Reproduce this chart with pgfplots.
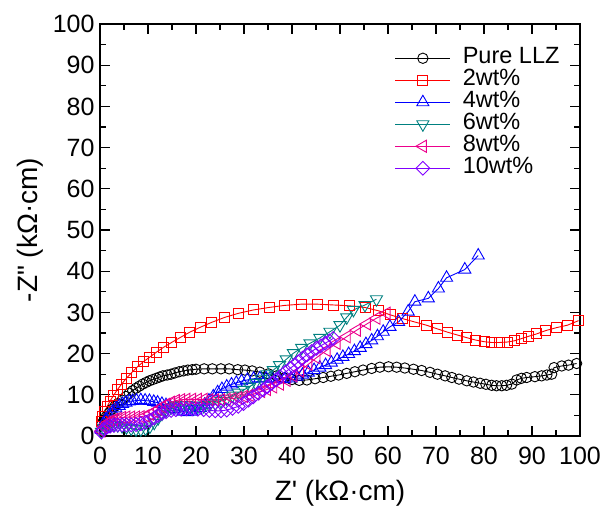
\documentclass[border=0pt]{standalone}
\usepackage{fontspec}
\newfontfamily\lsans{Liberation Sans}
\usepackage{pgfplots}
\pgfplotsset{compat=1.18}
\definecolor{cteal}{RGB}{0,128,128}
\definecolor{cviolet}{RGB}{128,0,255}
\begin{document}
\begin{tikzpicture}[font=\lsans\fontsize{25}{29}\selectfont]
\begin{axis}[
  name=ax,
  scale only axis, width=480pt, height=412pt,
  xmin=0, xmax=100, ymin=0, ymax=100,
  xtick distance=10, ytick distance=10, minor tick num=1,
  tick align=inside,
  major tick length=10pt, minor tick length=6pt,
  every tick/.style={black, line width=1.2pt},
  axis line style={line width=1.5pt},
  /pgf/number format/assume math mode=true,
  xticklabel style={anchor=center, yshift=-20pt},
  yticklabel style={anchor=east, xshift=-2pt},
  xlabel={Z' (kΩ·cm)}, ylabel={-Z" (kΩ·cm)},
  xlabel style={at={(axis description cs:0.5,-0.138)}, anchor=center, font=\lsans\fontsize{28}{32}\selectfont},
  ylabel style={at={(axis description cs:-0.146,0.5)}, anchor=center, font=\lsans\fontsize{28}{32}\selectfont},
  legend style={at={(0.614,0.944)}, anchor=north west, draw=none, fill=none,
    inner sep=0pt, column sep=12pt, row sep=0pt,
    font=\lsans\fontsize{23.5}{27}\selectfont,
    nodes={inner sep=0pt, text height=16.5pt, text depth=5.5pt}},
  legend cell align=left,
  legend image code/.code={\draw[mark repeat=2,mark phase=2] plot coordinates {(0pt,0pt) (27.5pt,0pt) (55pt,0pt)};},
  every axis plot/.append style={line width=0.9pt},
]
\addplot[black, mark=o, mark size=5.2pt, mark options={fill=white, line width=0.9pt}] coordinates {
(0.4,3.0)(0.8,3.8)(1.3,4.7)(1.9,5.6)(2.5,6.5)(3.1,7.2)(3.8,7.9)(4.6,8.7)(5.4,9.6)(6.1,10.4)(6.8,11.0)(7.5,11.6)(8.2,12.1)(8.9,12.6)(9.6,13.0)(10.3,13.4)(11.0,13.7)(11.7,14.0)(12.4,14.3)(13.1,14.6)(14.0,14.8)(14.8,15.0)(15.6,15.3)(16.5,15.6)(17.4,15.8)(18.3,16.0)(19.2,16.1)(20.0,16.2)(21.7,16.3)(23.4,16.3)(25.2,16.3)(26.9,16.3)(28.7,16.1)(30.2,16.0)(31.7,15.8)(33.3,15.5)(35.1,15.1)(36.8,14.6)(38.4,14.1)(40.0,13.7)(41.5,13.5)(43.1,13.6)(44.8,13.9)(46.5,14.2)(48.1,14.5)(49.7,14.8)(51.4,15.2)(53.1,15.6)(54.8,16.0)(56.6,16.4)(58.3,16.7)(60.1,16.8)(61.8,16.7)(63.5,16.5)(65.3,16.2)(67.0,15.9)(68.75,15.45)(70.3,15.0)(71.9,14.6)(73.3,14.2)(74.8,13.8)(76.4,13.4)(77.8,13.1)(79.2,12.8)(80.4,12.55)(81.6,12.3)(82.6,12.2)(83.7,12.2)(84.7,12.3)(85.8,12.6)(86.8,13.6)(87.8,14.0)(88.9,14.2)(90.6,14.4)(92.0,14.6)(93.1,14.8)(94.1,15.0)(94.6,16.6)(96.2,17.0)(97.6,17.2)(99.3,17.6)
};
\addlegendentry{Pure LLZ}
\addplot[red, mark=square, mark size=5pt, mark options={fill=white, line width=0.9pt}] coordinates {
(0.3,3.5)(0.6,4.8)(1.0,6.0)(1.5,7.2)(2.1,8.5)(2.8,9.8)(3.6,11.2)(4.5,12.6)(5.5,14.0)(6.6,15.4)(7.8,16.8)(9.0,18.0)(10.3,19.1)(11.7,20.3)(13.2,21.5)(14.9,22.7)(16.7,23.9)(18.7,25.2)(20.9,26.4)(23.3,27.6)(26.0,28.8)(28.9,29.8)(32.0,30.6)(35.2,31.2)(38.5,31.7)(41.9,32.0)(45.3,32.0)(48.7,31.8)(52.0,31.6)(55.2,31.2)(58.0,30.4)(60.5,29.4)(63.0,28.5)(65.5,27.7)(68.0,26.9)(70.3,26.0)(72.4,25.2)(74.5,24.5)(76.3,23.9)(78.2,23.3)(80.0,22.9)(81.6,22.7)(83.2,22.7)(84.8,22.8)(86.3,23.1)(87.7,23.6)(89.3,24.2)(91.0,24.8)(92.9,25.6)(95.1,26.3)(97.4,26.9)(99.7,28.0)
};
\addlegendentry{2wt\%}
\addplot[blue, mark=triangle, mark size=7pt, mark options={fill=white, line width=0.9pt}] coordinates {
(0.3,1.5)(0.7,3.0)(1.2,4.0)(1.9,5.0)(2.6,5.9)(3.3,6.7)(4.0,7.3)(4.7,7.8)(5.4,8.1)(6.1,8.4)(6.8,8.5)(7.6,8.6)(8.5,8.7)(9.4,8.6)(10.3,8.5)(11.2,8.3)(12.0,8.1)(12.9,7.8)(13.75,7.5)(14.6,7.1)(15.5,6.6)(16.4,6.2)(17.3,5.9)(18.2,5.8)(19.1,5.9)(20.0,6.2)(20.9,6.8)(21.8,7.6)(22.7,8.6)(23.6,9.6)(24.5,10.6)(25.4,11.4)(26.4,12.0)(27.4,12.5)(28.4,12.9)(29.5,13.3)(30.7,13.6)(32.0,13.9)(33.3,14.0)(34.6,14.0)(35.9,13.9)(37.2,13.8)(38.5,13.8)(39.8,14.0)(41.0,14.4)(42.2,14.9)(43.4,15.4)(44.6,16.0)(45.8,16.6)(47.0,17.2)(48.2,17.8)(49.4,18.5)(50.6,19.2)(51.8,19.9)(53.0,20.6)(54.2,21.4)(55.4,22.3)(56.6,23.2)(57.8,24.2)(59.0,25.3)(60.4,26.5)(62.2,27.7)(64.2,30.2)(65.6,32.6)(68.4,33.4)(70.5,35.8)(72.2,38.4)(76.0,40.4)(78.8,43.8)
};
\addlegendentry{4wt\%}
\addplot[cteal, mark=triangle, mark size=7pt, mark options={rotate=180, fill=white, line width=0.9pt}] coordinates {
(0.3,1.0)(0.8,1.8)(1.4,2.3)(2.1,2.6)(2.9,2.7)(3.7,2.6)(4.6,2.4)(5.5,2.1)(6.5,1.8)(7.5,1.6)(8.5,1.6)(9.5,1.8)(10.4,2.3)(11.3,3.2)(12.1,4.3)(12.9,5.4)(13.8,6.3)(14.8,6.9)(15.8,7.3)(16.9,7.5)(18.0,7.5)(19.2,7.4)(20.4,7.3)(21.6,7.3)(22.8,7.5)(24.0,7.9)(25.2,8.5)(26.4,9.1)(27.6,9.8)(28.8,10.5)(30.0,11.2)(31.2,12.0)(32.4,12.9)(33.6,13.9)(34.8,15.0)(36.1,16.0)(37.4,17.2)(38.8,18.6)(40.3,20.1)(42.0,21.4)(43.75,22.5)(45.8,23.8)(47.9,25.3)(50.0,26.9)(51.4,28.8)(52.8,30.6)(55.2,31.8)(57.6,33.2)
};
\addlegendentry{6wt\%}
\addplot[magenta, mark=triangle, mark size=7pt, mark options={rotate=90, fill=white, line width=0.9pt}] coordinates {
(0.3,1.2)(0.8,2.2)(1.4,3.0)(2.1,3.6)(2.9,4.0)(3.7,4.3)(4.6,4.5)(5.5,4.6)(6.5,4.6)(7.5,4.6)(8.5,4.7)(9.5,4.9)(10.4,5.3)(11.3,5.9)(12.1,6.5)(12.9,7.1)(13.8,7.7)(14.8,8.2)(15.8,8.6)(16.9,8.8)(18.0,8.9)(19.2,8.9)(20.4,8.9)(21.6,8.9)(22.8,8.8)(24.0,8.8)(25.2,8.8)(26.4,8.9)(27.6,9.1)(28.8,9.3)(30.0,9.6)(31.2,9.9)(32.4,10.3)(33.6,10.8)(34.8,11.3)(36.1,11.9)(37.5,12.6)(38.9,13.5)(40.3,14.6)(41.7,15.8)(43.4,17.4)(45.1,19.0)(47.2,20.8)(49.3,22.5)(51.4,24.1)(53.5,25.7)(55.6,27.2)(57.6,28.6)(59.7,29.8)
};
\addlegendentry{8wt\%}
\addplot[cviolet, mark=square, mark size=4.9pt, mark options={rotate=45, fill=white, line width=0.9pt}] coordinates {
(0.3,1.0)(0.8,1.6)(1.4,2.1)(2.1,2.4)(2.9,2.6)(3.7,2.7)(4.6,2.7)(5.5,2.7)(6.5,2.7)(7.5,2.8)(8.5,3.0)(9.5,3.3)(10.4,3.8)(11.3,4.4)(12.1,5.0)(12.9,5.5)(13.8,5.9)(14.8,6.2)(15.8,6.4)(16.9,6.5)(18.0,6.6)(19.2,6.6)(20.4,6.5)(21.6,6.4)(22.8,6.2)(24.0,6.1)(25.2,6.1)(26.4,6.3)(27.6,6.7)(28.8,7.2)(29.9,7.9)(30.9,8.7)(31.9,9.5)(33.0,10.4)(34.0,11.2)(34.9,12.0)(35.8,12.8)(36.7,13.6)(37.5,14.4)(38.5,15.4)(39.6,16.4)(40.5,17.2)(41.3,18.0)(42.2,18.9)(43.1,19.7)(44.1,20.5)(45.1,21.3)(46.0,21.9)(46.9,22.5)(47.8,23.1)(48.6,23.7)
};
\addlegendentry{10wt\%}
\end{axis}
\pgfresetboundingbox
\path[use as bounding box] ([xshift=-100pt,yshift=-76pt]ax.south west) rectangle ([xshift=33pt,yshift=24pt]ax.north east);
\end{tikzpicture}
\end{document}
